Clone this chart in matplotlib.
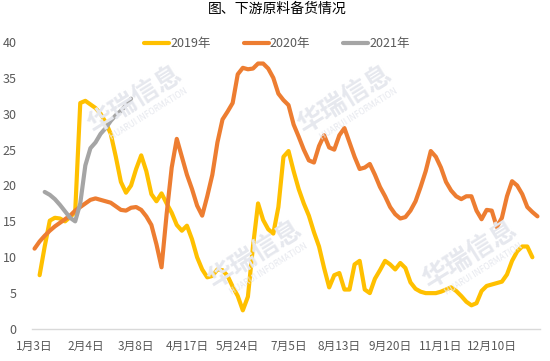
import numpy as np
import matplotlib
matplotlib.use("Agg")
import matplotlib.pyplot as plt

plt.rcParams['font.family'] = ['Noto Sans CJK SC', 'DejaVu Sans']

nan = np.nan

# weekly-ish observation points, tick label on every 10th point
tick_labels = ['1月3日', '2月4日', '3月8日', '4月17日', '5月24日',
               '7月5日', '8月13日', '9月20日', '11月1日', '12月10日']

stock_2019 = [
    nan, 7.5, 11.5, 15.1, 15.5, 15.4, 15.0, 15.6, 16.3, 31.5,
    31.8, 31.3, 30.8, 30.0, 28.8, 27.2, 24.0, 20.5, 19.0, 20.0,
    22.3, 24.2, 22.0, 18.8, 17.8, 18.9, 17.5, 16.2, 14.5, 13.7,
    14.4, 12.5, 10.0, 8.3, 7.2, 7.4, 8.3, 8.2, 7.4, 5.9,
    4.6, 2.6, 4.5, 11.5, 17.5, 15.2, 13.9, 13.3, 17.0, 24.0,
    24.8, 22.0, 19.5, 17.5, 15.8, 13.5, 11.5, 8.5, 5.8, 7.5,
    7.8, 5.5, 5.5, 9.0, 9.5, 5.5, 5.0, 7.0, 8.2, 9.5,
    9.0, 8.3, 9.2, 8.5, 6.5, 5.6, 5.2, 5.0, 5.0, 5.0,
    5.2, 5.5, 5.8, 5.3, 4.6, 3.8, 3.3, 3.6, 5.3, 6.0,
    6.2, 6.4, 6.6, 7.6, 9.5, 10.8, 11.5, 11.5, 10.0, nan,
]

stock_2020 = [
    11.2, 12.2, 13.0, 13.7, 14.3, 14.8, 15.3, 15.8, 16.5, 17.0,
    17.5, 18.0, 18.2, 18.0, 17.8, 17.6, 17.1, 16.6, 16.5, 16.9,
    17.0, 16.6, 15.7, 14.5, 11.8, 8.6, 16.0, 22.5, 26.5, 24.0,
    21.5, 19.5, 17.2, 15.8, 18.5, 21.5, 26.0, 29.2, 30.3, 31.5,
    35.5, 36.4, 36.2, 36.3, 37.0, 37.0, 36.3, 35.0, 32.8, 31.9,
    31.2, 28.5, 26.8, 25.0, 23.5, 23.2, 25.5, 27.0, 25.3, 25.0,
    27.0, 28.0, 26.0, 24.0, 22.3, 22.5, 23.0, 21.5, 19.8, 18.5,
    17.0, 16.0, 15.4, 15.6, 16.5, 17.8, 19.8, 22.0, 24.8, 24.0,
    22.5, 20.5, 19.3, 18.5, 18.1, 18.5, 18.5, 16.5, 15.3, 16.6,
    16.5, 14.2, 15.5, 18.5, 20.6, 20.0, 18.8, 17.0, 16.3, 15.7,
]

stock_2021 = [
    nan, nan, 19.1, 18.7, 18.1, 17.3, 16.4, 15.5, 15.0, 17.5,
    22.8, 25.2, 26.0, 27.2, 28.0, 29.0, 29.8, 30.4, 31.2, 32.1,
]

series = [
    ('2019年', stock_2019, '#FFC000'),
    ('2020年', stock_2020, '#ED7D31'),
    ('2021年', stock_2021, '#A5A5A5'),
]

fig = plt.figure(figsize=(5.5, 3.61), dpi=100)
ax = fig.add_axes([32 / 550, 1 - 329 / 361, 508 / 550, 287 / 361])

# faint watermarks
for cx, cy in [(135, 100), (345, 100), (255, 255), (470, 255)]:
    fig.text(cx / 550, 1 - cy / 361, '华瑞信息', fontsize=19, fontweight='bold',
             color='#E6E8EE', rotation=32, ha='center', va='center', zorder=0)
    fig.text((cx + 14) / 550, 1 - (cy + 14) / 361, 'HUARUI INFORMATION', fontsize=6,
             color='#E6E8EE', rotation=32, ha='center', va='center', zorder=0)
ax.patch.set_alpha(0)

for name, vals, color in series:
    ax.plot(np.arange(len(vals)), vals, color=color, lw=3, label=name,
            solid_joinstyle='round', solid_capstyle='round')

ax.set_xlim(-0.5, 99.5)
ax.set_ylim(0, 40)
ax.set_yticks(range(0, 41, 5))
ax.set_xticks(range(0, 100, 10))
ax.set_xticklabels(tick_labels)
ax.tick_params(axis='y', length=0, pad=11, labelsize=9, labelcolor='#595959')
ax.tick_params(axis='x', length=0, pad=8, labelsize=8.5, labelcolor='#595959')
for side in ['top', 'right', 'left']:
    ax.spines[side].set_visible(False)
ax.spines['bottom'].set_color('#D9D9D9')
ax.spines['bottom'].set_linewidth(1)

fig.legend(loc='center', bbox_to_anchor=(277 / 550, 1 - 44 / 361), ncol=3,
           frameon=False, fontsize=9, handlelength=2.0, handletextpad=0.1,
           columnspacing=2.6, labelcolor='#595959')

fig.text(277 / 550, 1 - 9 / 361, '图、下游原料备货情况', fontsize=10,
         ha='center', va='center', color='#000000')

fig.savefig('out.png', dpi=100)
